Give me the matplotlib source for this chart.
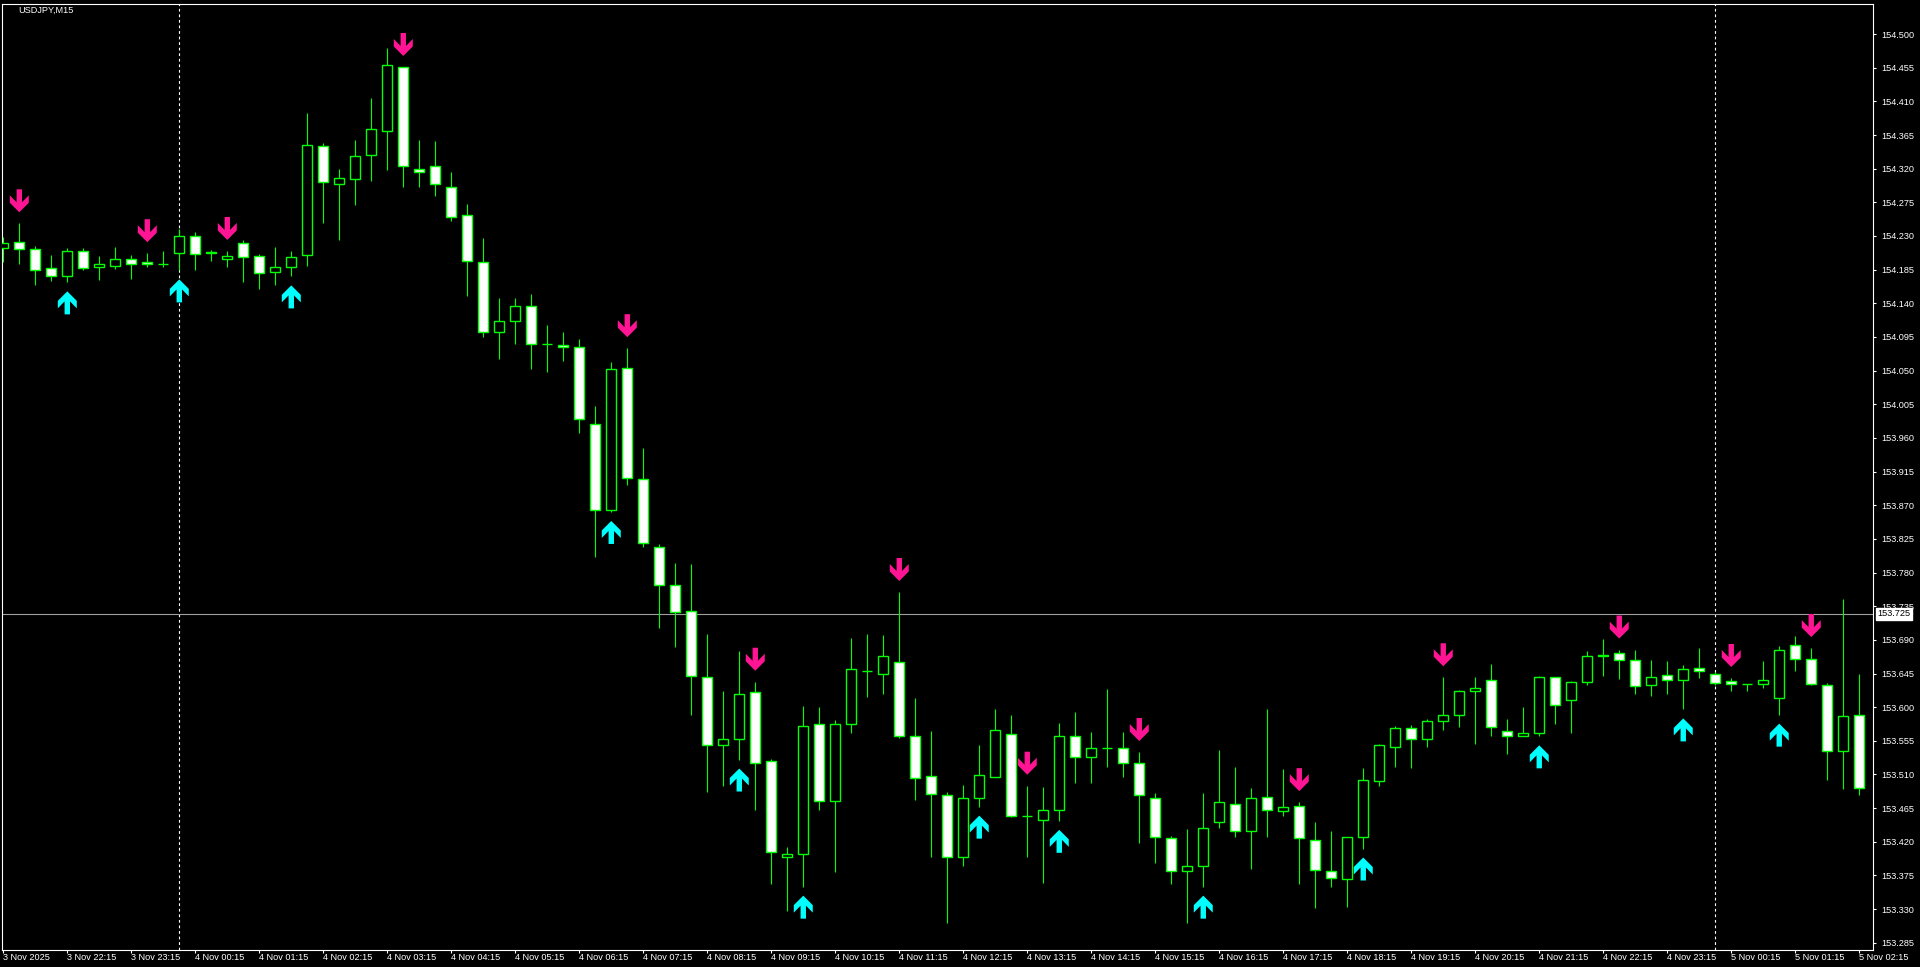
import numpy as np
import matplotlib
matplotlib.use('Agg')
import matplotlib.pyplot as plt
import matplotlib.transforms as mtransforms
from matplotlib.patches import Polygon

plt.rcParams.update({'font.family': ['Liberation Sans', 'DejaVu Sans'], 'font.size': 6.6})

symbol = 'USDJPY,M15'

# M15 bars, 3 Nov 21:15 -> 5 Nov 02:15
opens = [154.214, 154.222, 154.212, 154.187, 154.176, 154.210, 154.188, 154.190, 154.199, 154.195,
         154.193, 154.207, 154.230, 154.209, 154.199, 154.220, 154.203, 154.182, 154.188, 154.204,
         154.350, 154.300, 154.306, 154.338, 154.371, 154.456, 154.320, 154.323, 154.296, 154.258,
         154.195, 154.101, 154.116, 154.136, 154.085, 154.084, 154.081, 153.978, 153.863, 154.053,
         153.905, 153.814, 153.764, 153.728, 153.640, 153.550, 153.558, 153.620, 153.528, 153.400,
         153.403, 153.578, 153.475, 153.578, 153.649, 153.645, 153.661, 153.562, 153.508, 153.483,
         153.399, 153.479, 153.506, 153.564, 153.455, 153.449, 153.463, 153.562, 153.534, 153.545,
         153.546, 153.526, 153.479, 153.425, 153.381, 153.387, 153.447, 153.470, 153.435, 153.480,
         153.461, 153.468, 153.423, 153.381, 153.370, 153.427, 153.501, 153.547, 153.572, 153.558,
         153.581, 153.589, 153.621, 153.636, 153.568, 153.562, 153.566, 153.640, 153.609, 153.633,
         153.668, 153.672, 153.663, 153.629, 153.643, 153.636, 153.652, 153.645, 153.635, 153.631,
         153.631, 153.612, 153.683, 153.664, 153.629, 153.541, 153.589]
highs = [154.229, 154.247, 154.216, 154.205, 154.214, 154.214, 154.203, 154.215, 154.205, 154.207,
         154.210, 154.239, 154.235, 154.211, 154.210, 154.225, 154.206, 154.215, 154.210, 154.395,
         154.354, 154.319, 154.358, 154.414, 154.481, 154.456, 154.358, 154.357, 154.315, 154.273,
         154.227, 154.147, 154.147, 154.152, 154.111, 154.102, 154.092, 154.003, 154.061, 154.080,
         153.946, 153.818, 153.793, 153.791, 153.698, 153.622, 153.675, 153.634, 153.531, 153.413,
         153.602, 153.600, 153.583, 153.692, 153.698, 153.696, 153.754, 153.612, 153.568, 153.486,
         153.496, 153.549, 153.598, 153.590, 153.495, 153.493, 153.579, 153.594, 153.567, 153.624,
         153.567, 153.540, 153.485, 153.428, 153.437, 153.485, 153.543, 153.520, 153.492, 153.598,
         153.517, 153.473, 153.447, 153.434, 153.426, 153.519, 153.551, 153.575, 153.576, 153.584,
         153.640, 153.623, 153.640, 153.658, 153.584, 153.600, 153.642, 153.640, 153.635, 153.675,
         153.691, 153.677, 153.676, 153.663, 153.662, 153.656, 153.679, 153.647, 153.639, 153.631,
         153.662, 153.682, 153.695, 153.679, 153.632, 153.744, 153.644]
lows = [154.195, 154.193, 154.164, 154.170, 154.168, 154.185, 154.171, 154.186, 154.173, 154.188,
        154.189, 154.184, 154.184, 154.197, 154.188, 154.169, 154.159, 154.164, 154.176, 154.190,
        154.248, 154.224, 154.271, 154.303, 154.318, 154.295, 154.295, 154.284, 154.250, 154.150,
        154.095, 154.065, 154.086, 154.052, 154.048, 154.063, 153.966, 153.801, 153.861, 153.897,
        153.814, 153.706, 153.681, 153.590, 153.487, 153.495, 153.530, 153.462, 153.364, 153.328,
        153.360, 153.462, 153.380, 153.566, 153.613, 153.617, 153.559, 153.476, 153.400, 153.312,
        153.388, 153.467, 153.506, 153.453, 153.399, 153.365, 153.448, 153.499, 153.498, 153.520,
        153.506, 153.418, 153.391, 153.364, 153.312, 153.360, 153.439, 153.427, 153.384, 153.427,
        153.455, 153.364, 153.332, 153.359, 153.333, 153.411, 153.495, 153.520, 153.519, 153.547,
        153.570, 153.573, 153.551, 153.562, 153.538, 153.561, 153.561, 153.578, 153.566, 153.629,
        153.642, 153.637, 153.617, 153.615, 153.617, 153.597, 153.639, 153.630, 153.621, 153.622,
        153.625, 153.590, 153.649, 153.629, 153.502, 153.491, 153.482]
closes = [154.221, 154.212, 154.185, 154.176, 154.210, 154.187, 154.192, 154.199, 154.193, 154.192,
          154.193, 154.230, 154.206, 154.207, 154.203, 154.202, 154.181, 154.188, 154.202, 154.352,
          154.302, 154.307, 154.337, 154.373, 154.458, 154.323, 154.316, 154.299, 154.256, 154.196,
          154.101, 154.117, 154.137, 154.085, 154.085, 154.081, 153.985, 153.863, 154.052, 153.906,
          153.819, 153.764, 153.727, 153.641, 153.550, 153.557, 153.617, 153.526, 153.407, 153.403,
          153.575, 153.475, 153.577, 153.651, 153.649, 153.669, 153.561, 153.505, 153.484, 153.399,
          153.479, 153.509, 153.570, 153.455, 153.455, 153.463, 153.562, 153.534, 153.546, 153.545,
          153.526, 153.482, 153.426, 153.381, 153.387, 153.439, 153.473, 153.434, 153.478, 153.462,
          153.466, 153.425, 153.382, 153.371, 153.426, 153.502, 153.549, 153.572, 153.558, 153.582,
          153.589, 153.621, 153.625, 153.574, 153.562, 153.566, 153.640, 153.603, 153.633, 153.669,
          153.670, 153.663, 153.628, 153.640, 153.636, 153.651, 153.649, 153.632, 153.631, 153.631,
          153.636, 153.677, 153.665, 153.631, 153.542, 153.588, 153.492]

sell_bars = [1, 9, 14, 25, 39, 47, 56, 64, 71, 81, 90, 101, 108, 113]
buy_bars = [4, 11, 18, 38, 46, 50, 61, 66, 75, 85, 96, 105, 111]
day_breaks = [11, 107]
bid = 153.725

price_ticks = [153.285, 153.330, 153.375, 153.420, 153.465, 153.510, 153.555, 153.600, 153.645,
               153.690, 153.735, 153.780, 153.825, 153.870, 153.915, 153.960, 154.005, 154.050,
               154.095, 154.140, 154.185, 154.230, 154.275, 154.320, 154.365, 154.410, 154.455,
               154.500]
time_labels = ['3 Nov 2025', '3 Nov 22:15', '3 Nov 23:15',
               '4 Nov 00:15', '4 Nov 01:15', '4 Nov 02:15', '4 Nov 03:15', '4 Nov 04:15',
               '4 Nov 05:15', '4 Nov 06:15', '4 Nov 07:15', '4 Nov 08:15', '4 Nov 09:15',
               '4 Nov 10:15', '4 Nov 11:15', '4 Nov 12:15', '4 Nov 13:15', '4 Nov 14:15',
               '4 Nov 15:15', '4 Nov 16:15', '4 Nov 17:15', '4 Nov 18:15', '4 Nov 19:15',
               '4 Nov 20:15', '4 Nov 21:15', '4 Nov 22:15', '4 Nov 23:15',
               '5 Nov 00:15', '5 Nov 01:15', '5 Nov 02:15']

GREEN = '#00ff00'
PINK = '#ff1493'
CYAN = '#00ffff'

W, H = 1920, 967
fig = plt.figure(figsize=(W / 100, H / 100), dpi=100, facecolor='black')
ax = fig.add_axes([2 / W, (H - 950) / H, 1871 / W, 946 / H], facecolor='black')

o, h, l, c = (np.array(a) for a in (opens, highs, lows, closes))
x = np.arange(len(o))

ax.vlines(x, l, h, color=GREEN, lw=0.8, zorder=2)
ax.bar(x, np.abs(c - o), bottom=np.minimum(o, c), width=0.64,
       color=['white' if cc < oo else 'black' for oo, cc in zip(o, c)],
       edgecolor=GREEN, linewidth=1.0, zorder=3)

# signal arrows, shapes in pixels (tip at origin)
down_shape = np.array([(0, 0), (9.5, 9.5), (9.5, 17), (2.7, 10), (2.7, 23), (-2.7, 23),
                       (-2.7, 10), (-9.5, 17), (-9.5, 9.5)])
up_shape = down_shape * [1, -1]
k = fig.dpi / 100
for i in sell_bars:
    tr = mtransforms.Affine2D().scale(k) + mtransforms.ScaledTranslation(i, h[i], ax.transData)
    ax.add_patch(Polygon(down_shape + [0, 11], closed=True, transform=tr,
                         facecolor=PINK, edgecolor='none', zorder=5))
for i in buy_bars:
    tr = mtransforms.Affine2D().scale(k) + mtransforms.ScaledTranslation(i, l[i], ax.transData)
    ax.add_patch(Polygon(up_shape - [0, 9], closed=True, transform=tr,
                         facecolor=CYAN, edgecolor='none', zorder=5))

for d in day_breaks:
    ax.axvline(d, color='white', lw=0.8, ls=(0, (2.5, 2.5)), zorder=1)
ax.axhline(bid, color='#a0a0a0', lw=0.8, zorder=1)

ax.set_xlim(-0.081, 116.86)
ax.set_ylim(153.2753, 154.5402)

ax.set_xticks(x[::4])
ax.set_xticklabels(time_labels, ha='left')
ax.set_yticks(price_ticks)
ax.set_yticklabels([f'{p:.3f}' for p in price_ticks])
ax.yaxis.tick_right()
ax.tick_params(axis='y', colors='white', length=2.5, width=0.8, pad=3.5, labelsize=6.6)
ax.tick_params(axis='x', colors='white', length=2.2, width=0.8, pad=0.3, labelsize=6.6)
for s in ax.spines.values():
    s.set_color('white')
    s.set_linewidth(0.8)

ax.text(1.0025, bid, f'{bid:.3f}', transform=mtransforms.blended_transform_factory(ax.transAxes, ax.transData),
        color='black', fontsize=6.6, va='center', ha='left', zorder=10, clip_on=False,
        bbox=dict(facecolor='white', edgecolor='white', pad=1.2))

fig.text(18 / W, 1 - 10.5 / H, symbol, color='white', fontsize=6.6, va='center', ha='left')

fig.savefig('out.png', dpi=100, facecolor='black')
